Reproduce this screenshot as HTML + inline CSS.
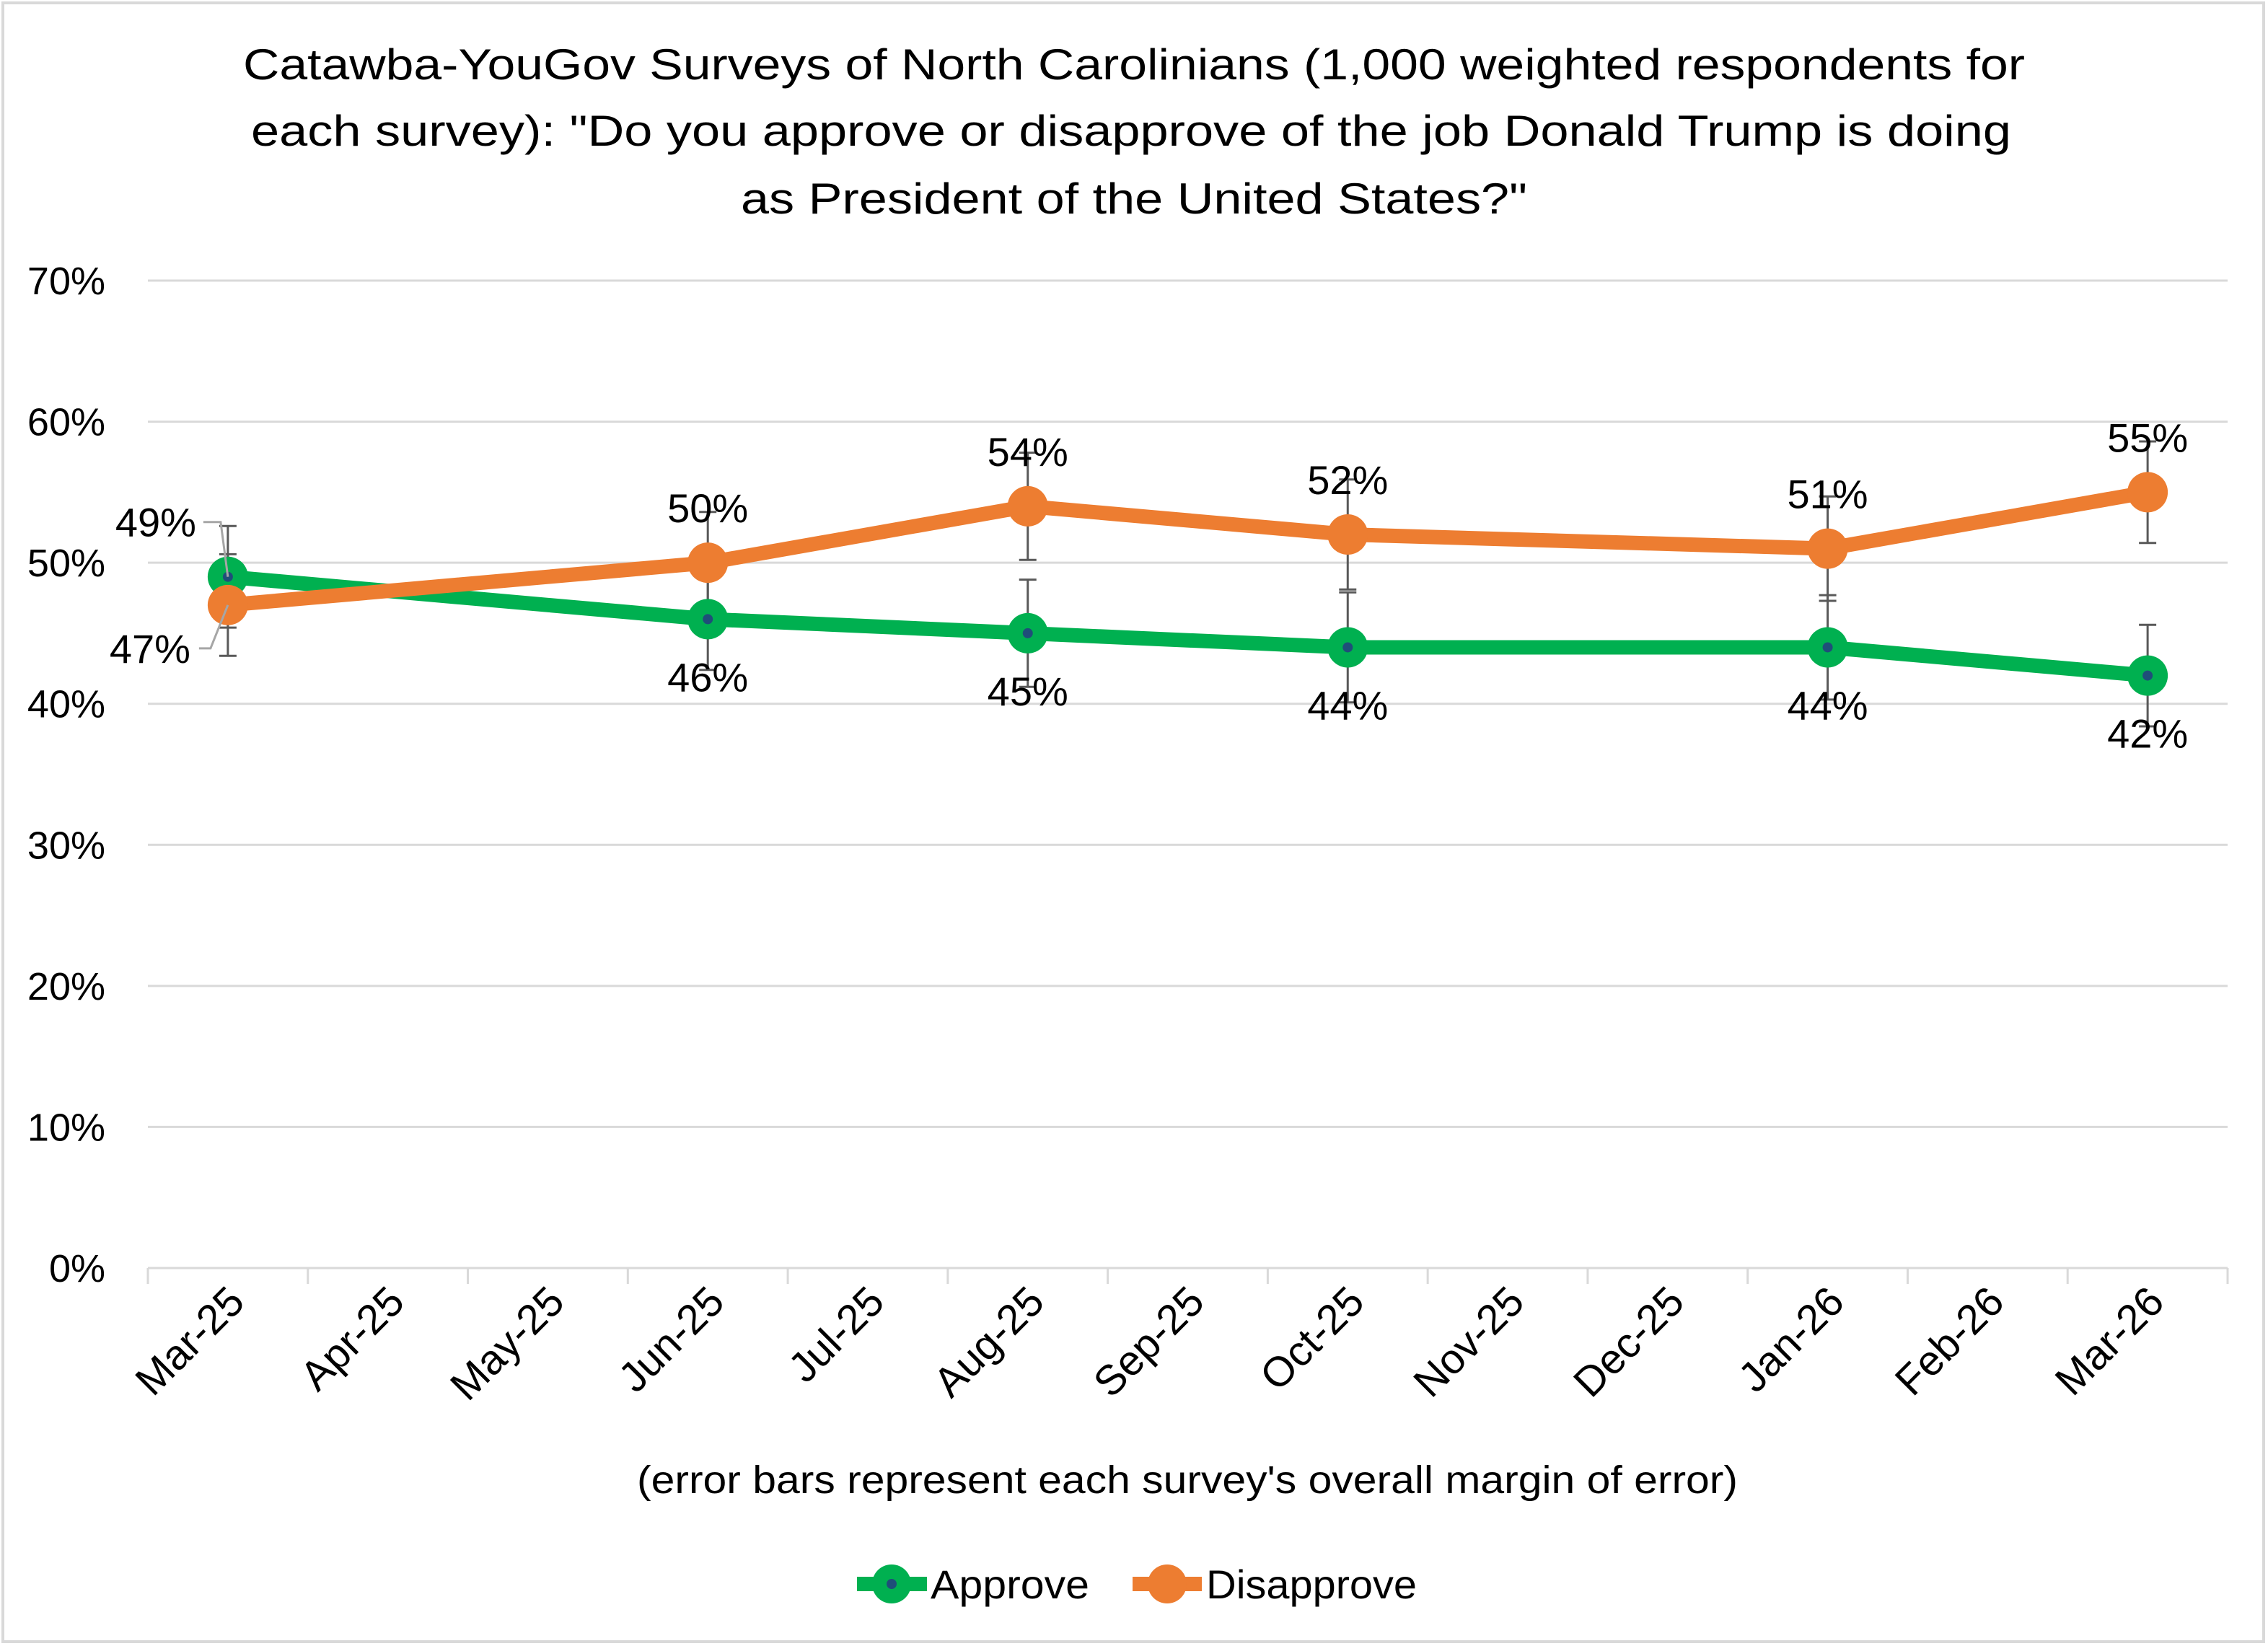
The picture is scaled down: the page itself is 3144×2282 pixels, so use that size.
<!DOCTYPE html>
<html><head><meta charset="utf-8"><style>
html,body{margin:0;padding:0;background:#fff;}
svg{display:block;font-family:"Liberation Sans",sans-serif;}
</style></head><body>
<svg id="chart" width="3144" height="2282" viewBox="0 0 3144 2282" xmlns="http://www.w3.org/2000/svg">
<rect x="4" y="4" width="3134" height="2272" fill="#fff" stroke="#d9d9d9" stroke-width="4"/>
<g font-size="60" fill="#000" text-anchor="middle">
<text x="1572" y="110" textLength="2470" lengthAdjust="spacingAndGlyphs">Catawba-YouGov Surveys of North Carolinians (1,000 weighted respondents for</text>
<text x="1568" y="202" textLength="2440" lengthAdjust="spacingAndGlyphs">each survey): "Do you approve or disapprove of the job Donald Trump is doing</text>
<text x="1572" y="296" textLength="1090" lengthAdjust="spacingAndGlyphs">as President of the United States?"</text>
</g>
<g id="grid"></g><g id="yaxis"></g><g id="xaxis"></g><g id="errs"></g><g id="series"></g><g id="labels"></g>
<text x="1646" y="2070" font-size="54" text-anchor="middle" textLength="1526" lengthAdjust="spacingAndGlyphs">(error bars represent each survey's overall margin of error)</text>
<g>
<g>
<line x1="1188" y1="2196" x2="1285" y2="2196" stroke="#00B050" stroke-width="20"/>
<circle cx="1236" cy="2196" r="27" fill="#00B050"/><circle cx="1236" cy="2196" r="7" fill="#1F4E79"/>
<text x="1290" y="2216" font-size="56" textLength="220" lengthAdjust="spacingAndGlyphs">Approve</text></g>
<g>
<line x1="1570" y1="2196" x2="1666" y2="2196" stroke="#ED7D31" stroke-width="20"/>
<circle cx="1618" cy="2196" r="27" fill="#ED7D31"/>
<text x="1672" y="2216" font-size="56" textLength="292" lengthAdjust="spacingAndGlyphs">Disapprove</text></g>
</g>
</svg>
<script>
const months = ["Mar-25","Apr-25","May-25","Jun-25","Jul-25","Aug-25","Sep-25","Oct-25","Nov-25","Dec-25","Jan-26","Feb-26","Mar-26"];
const surveyIdx = [0,3,5,7,10,12];
const approve = [49,46,45,44,44,42];
const disapprove = [47,50,54,52,51,55];
const moe = [3.6,3.6,3.8,3.9,3.7,3.6];
const yTicks = [0,10,20,30,40,50,60,70];

const NS="http://www.w3.org/2000/svg";
const L=205, R=3088, Y0=1758, Y70=389;
const bw=(R-L)/months.length;
function xs(i){return L+(i+0.5)*bw;}
function ys(v){return Y0-(v/70)*(Y0-Y70);}
function mk(tag,attrs,parent){const e=document.createElementNS(NS,tag);for(const k in attrs)e.setAttribute(k,attrs[k]);parent.appendChild(e);return e;}
const grid=document.getElementById('grid'),ya=document.getElementById('yaxis'),xa=document.getElementById('xaxis'),errs=document.getElementById('errs'),ser=document.getElementById('series'),lab=document.getElementById('labels');
yTicks.forEach(t=>{
  const g=mk('line',{x1:L,x2:R,y1:ys(t),y2:ys(t),stroke:'#d9d9d9','stroke-width':3},grid);
  
  
  const tx=mk('text',{x:146,y:ys(t)+19,'font-size':54,'text-anchor':'end'},ya);
  tx.textContent=t+'%';
  
  
});
for(let i=0;i<=months.length;i++){
  const x=L+i*bw;
  const tk=mk('line',{x1:x,x2:x,y1:Y0,y2:Y0+22,stroke:'#d9d9d9','stroke-width':3},xa);
  
  
}
months.forEach((m,i)=>{
  const x=xs(i)+26,y=Y0+50;
  const t=mk('text',{x:x,y:y,'font-size':58,'text-anchor':'end',transform:`rotate(-45 ${x} ${y})`},xa);
  t.textContent=m;
  
  
});
function errBar(i,v,e){
  const x=xs(surveyIdx[i]);
  const g=mk('g',{stroke:'#595959','stroke-width':3},errs);
  
  
  mk('line',{x1:x,x2:x,y1:ys(v+e),y2:ys(v-e)},g);
  mk('line',{x1:x-12,x2:x+12,y1:ys(v+e),y2:ys(v+e)},g);
  mk('line',{x1:x-12,x2:x+12,y1:ys(v-e),y2:ys(v-e)},g);
}
approve.forEach((v,i)=>errBar(i,v,moe[i]));
disapprove.forEach((v,i)=>errBar(i,v,moe[i]));
function series(vals,color,name,dot){
  const g=mk('g',{},ser);
  
  
  const pts=vals.map((v,i)=>xs(surveyIdx[i])+','+ys(v)).join(' ');
  const pl=mk('polyline',{points:pts,fill:'none',stroke:color,'stroke-width':20,'stroke-linejoin':'round'},g);
  
  
  vals.forEach((v,i)=>{
    const c=mk('circle',{cx:xs(surveyIdx[i]),cy:ys(v),r:28,fill:color},g);
    
    
    if(dot){mk('circle',{cx:xs(surveyIdx[i]),cy:ys(v),r:7,fill:'#1F4E79'},g);}
  });
}
series(approve,'#00B050','approve',true);
series(disapprove,'#ED7D31','disapprove',false);
function label(x,y,txt,name){
  const t=mk('text',{x:x,y:y,'font-size':56,'text-anchor':'middle'},lab);
  t.textContent=txt;
  
  
}
approve.forEach((v,i)=>{
  if(i===0){
    label(xs(0)-100,ys(v)-56,v+'%','approve-data-label');
    mk('polyline',{points:`${xs(0)-34},${ys(v)-76} ${xs(0)-10},${ys(v)-76} ${xs(0)},${ys(v)}`,fill:'none',stroke:'#a6a6a6','stroke-width':3},lab);
  } else label(xs(surveyIdx[i]),ys(v)+100,v+'%','approve-data-label');
});
disapprove.forEach((v,i)=>{
  if(i===0){
    label(xs(0)-108,ys(v)+80,v+'%','disapprove-data-label');
    mk('polyline',{points:`${xs(0)-40},${ys(v)+60} ${xs(0)-24},${ys(v)+60} ${xs(0)},${ys(v)}`,fill:'none',stroke:'#a6a6a6','stroke-width':3},lab);
  } else label(xs(surveyIdx[i]),ys(v)-56,v+'%','disapprove-data-label');
});
</script>
</body></html>
